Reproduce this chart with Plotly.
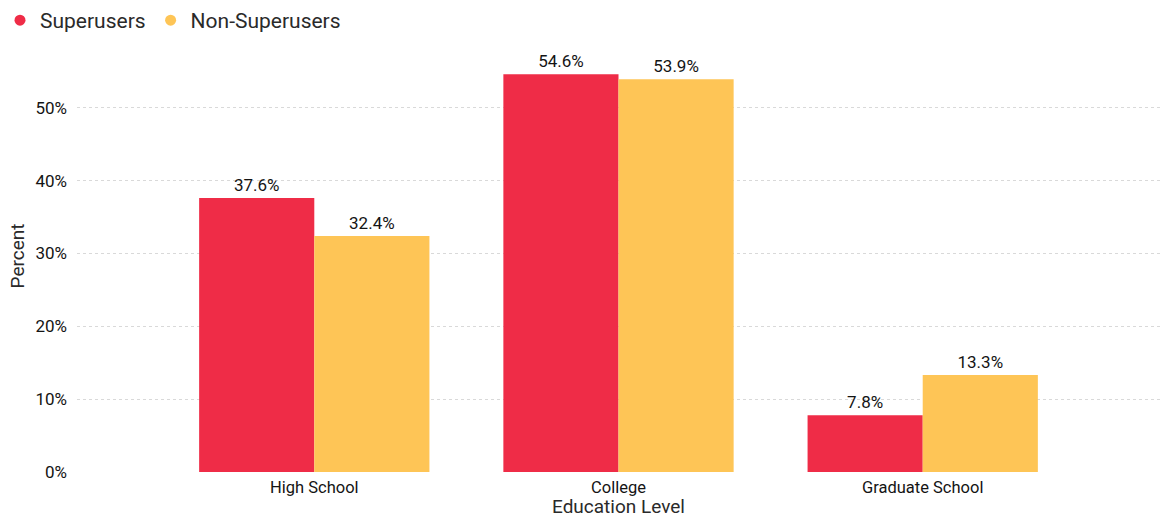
import plotly.graph_objects as go

categories = ["High School", "College", "Graduate School"]
superusers = [0.376, 0.546, 0.078]
non_superusers = [0.324, 0.539, 0.133]
series_names = ["Superusers", "Non-Superusers"]
colors = ["#EF2C47", "#FEC556"]

FONT = "Roboto"
TXT = "#141414"

fig = go.Figure()
for name, vals, col in zip(series_names, [superusers, non_superusers], colors):
    fig.add_trace(go.Bar(
        x=categories, y=vals, name=name, marker=dict(color=col, line=dict(width=0)),
        text=[f"{v*100:.1f}%" for v in vals], textposition="outside",
        textfont=dict(family=FONT, size=17, color=TXT), cliponaxis=False,
        showlegend=False,
    ))
# legend entries with circular symbols
for name, col in zip(series_names, colors):
    fig.add_trace(go.Scatter(
        x=[None], y=[None], mode="markers", name=name,
        marker=dict(color=col, size=11, symbol="circle"), showlegend=True,
    ))

fig.update_layout(
    width=1162, height=518,
    margin=dict(l=77, r=2, t=40, b=46, autoexpand=False),
    paper_bgcolor="white", plot_bgcolor="white",
    barmode="group", bargap=0.243, bargroupgap=0,
    font=dict(family=FONT, color=TXT),
    legend=dict(orientation="h", x=-0.024, y=1.0, xref="container", yref="container",
                xanchor="left", yanchor="top", font=dict(size=21, color="#2a2a2a"),
                itemwidth=30, tracegroupgap=0),
    xaxis=dict(range=[-0.78, 2.78], showgrid=False, zeroline=False, showline=False,
               ticks="", tickfont=dict(size=16.5, color=TXT), automargin=False,
               ticklabelstandoff=3,
               title=dict(text="Education Level", font=dict(size=19, color="#2a2a2a"), standoff=2)),
    yaxis=dict(range=[0, 0.593], tickformat=".0%", dtick=0.1, showgrid=True,
               gridcolor="#d9d9d9", griddash="dot", gridwidth=1, zeroline=False,
               showline=False, ticks="", tickfont=dict(size=17, color=TXT),
               automargin=False, ticklabelstandoff=9,
               title=dict(text="Percent", font=dict(size=19, color="#2a2a2a"), standoff=5)),
)

fig.write_html("out.html", post_script="document.body.style.margin='0';",
               config={"displayModeBar": False})
